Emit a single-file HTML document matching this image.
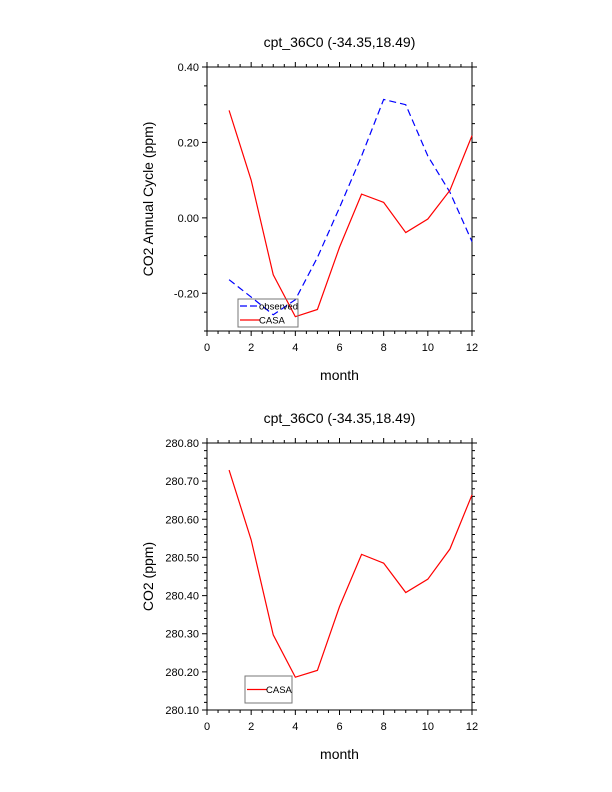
<!DOCTYPE html>
<html><head><meta charset="utf-8"><style>
body{margin:0;background:#fff;}
svg{display:block;font-family:"Liberation Sans",sans-serif;}
</style></head><body>
<svg id="svg" width="612" height="792"></svg>
<script>
const months=[1,2,3,4,5,6,7,8,9,10,11,12];
const obsTop=[-0.164,-0.210,-0.257,-0.217,-0.105,0.027,0.164,0.314,0.300,0.164,0.068,-0.063];
const casaTop=[0.285,0.100,-0.151,-0.262,-0.243,-0.078,0.063,0.041,-0.039,-0.003,0.073,0.218];
const casaBot=[280.729,280.546,280.297,280.186,280.204,280.371,280.508,280.485,280.408,280.443,280.522,280.664];
const xTicks=[0,2,4,6,8,10,12];
const yTicksTop=[-0.2,0.0,0.2,0.4];
const yTicksBot=[280.10,280.20,280.30,280.40,280.50,280.60,280.70,280.80];
const titleText="cpt_36C0 (-34.35,18.49)";
const NS="http://www.w3.org/2000/svg";
const svg=document.getElementById('svg');
function mk(t,a,p){const e=document.createElementNS(NS,t);for(const k in a)e.setAttribute(k,a[k]);(p||svg).appendChild(e);return e;}
function panel(name,L,R,T,B,ymin,ymax,yMinorStep,yTicks,yfmt,ylabel,series,legend){
  const g=mk('g',{});
  
  
  const sx=v=>L+(v-0)/12*(R-L), sy=v=>B-(v-ymin)/(ymax-ymin)*(B-T);
  const fr=mk('rect',{x:L,y:T,width:R-L,height:B-T,fill:'none',stroke:'#000','stroke-width':1},g);
  
  let d='';
  for(let v=0;v<=12.001;v+=0.5){const x=sx(v);const maj=Math.abs(v/2-Math.round(v/2))<1e-6;const l=maj?5:3;d+=`M${x},${B}v${l}M${x},${T}v${-l}`;}
  const n=Math.round((ymax-ymin)/yMinorStep);
  for(let i=0;i<=n;i++){const v=ymin+i*yMinorStep;const y=sy(v);const maj=yTicks.some(t=>Math.abs(t-v)<1e-6);const l=maj?5:3;d+=`M${L},${y}h${-l}M${R},${y}h${l}`;}
  const tk=mk('path',{d:d,stroke:'#000','stroke-width':1,fill:'none'},g);
  
  xTicks.forEach(v=>{const t=mk('text',{x:sx(v),y:B+20,'font-size':11,'text-anchor':'middle'},g);t.textContent=v;
    });
  yTicks.forEach(v=>{const t=mk('text',{x:L-8,y:sy(v)+4,'font-size':11,'text-anchor':'end'},g);t.textContent=yfmt(v);
    });
  const tt=mk('text',{x:(L+R)/2,y:T-20,'font-size':14,'text-anchor':'middle'},g);tt.textContent=titleText;
  
  const xl=mk('text',{x:(L+R)/2,y:B+49,'font-size':14,'text-anchor':'middle'},g);xl.textContent='month';
  
  const yc=(T+B)/2;
  const yl=mk('text',{x:153,y:yc,'font-size':14,'text-anchor':'middle',transform:`rotate(-90 153 ${yc})`},g);yl.textContent=ylabel;
  
  series.forEach(s=>{const p=mk('polyline',{points:months.map((m,i)=>sx(m)+','+sy(s.v[i])).join(' '),fill:'none',stroke:s.c,'stroke-width':1.2,'stroke-dasharray':s.dash||'none'},g);
    });
  const lg=mk('g',{},g);
  
  mk('rect',{x:legend.x,y:legend.y,width:legend.w,height:legend.h,fill:'none',stroke:'#777','stroke-width':1},lg);
  legend.items.forEach((it,i)=>{const y=legend.y+legend.h/(legend.items.length*2)*(2*i+1);
    mk('line',{x1:legend.x+2,x2:legend.x+22,y1:y,y2:y,stroke:it.c,'stroke-width':1.2,'stroke-dasharray':it.dash||'none'},lg);
    const t=mk('text',{x:legend.x+21,y:y+3.5,'font-size':9.5},lg);t.textContent=it.t;
    });
}
panel('top-panel',207,472,67,331,-0.3,0.4,0.05,yTicksTop,v=>v.toFixed(2),'CO2 Annual Cycle (ppm)',
  [{name:'observed-line',v:obsTop,c:'#0000ff',dash:'7,4'},{name:'casa-line-top',v:casaTop,c:'#ff0000'}],
  {x:238,y:299,w:60,h:28,items:[{t:'observed',c:'#0000ff',dash:'7,3'},{t:'CASA',c:'#ff0000'}]});
panel('bottom-panel',207,472,443,710,280.10,280.80,0.02,yTicksBot,v=>v.toFixed(2),'CO2 (ppm)',
  [{name:'casa-line-bottom',v:casaBot,c:'#ff0000'}],
  {x:245,y:676,w:47,h:27,items:[{t:'CASA',c:'#ff0000'}]});
</script>
</body></html>
